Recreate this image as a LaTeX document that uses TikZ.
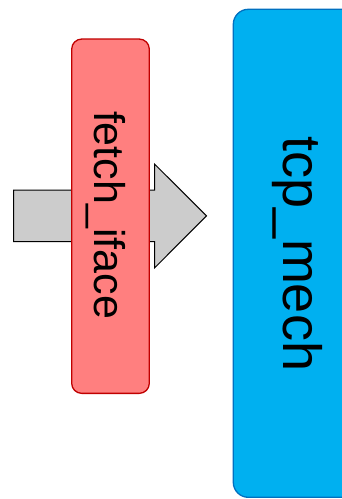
\documentclass[tikz,border=0pt]{standalone}
\usepackage{fontspec}
\setmainfont{Liberation Sans}
\definecolor{redfill}{HTML}{FF7F7F}
\definecolor{redline}{HTML}{C00000}
\definecolor{bluefill}{HTML}{00B0F0}
\definecolor{blueline}{HTML}{0070C0}
\definecolor{grayfill}{HTML}{CCCCCC}
\tikzset{
  block/.style={rectangle, inner sep=0pt, line width=1.3pt},
  lbl/.style={inner sep=0pt, rotate=-90, text=black},
}
\begin{document}
\begin{tikzpicture}[x=1pt,y=-1pt]
\useasboundingbox (0,0) rectangle (341,499);
% gray arrow
\draw[fill=grayfill, draw=black, line width=1pt, line join=miter]
  (13.5,190) -- (154.5,190) -- (154.5,164) -- (206.5,215.8) -- (154.5,268)
  -- (154.5,241.7) -- (13.5,241.7) -- cycle;
% red block
\node[block, fill=redfill, draw=redline, rounded corners=10pt,
  minimum width=77.6pt, minimum height=354.3pt] (fetch) at (110.5,216.2) {};
\node[lbl, font=\fontsize{43}{50}\selectfont] (fetchlbl) at (105.5,215) {fetch\_iface};
% blue block
\node[block, fill=bluefill, draw=blueline, rounded corners=15pt,
  minimum width=130pt, minimum height=488pt] (tcp) at (298.3,253.3) {};
\node[lbl, font=\fontsize{54}{62}\selectfont] (tcplbl) at (297,254) {tcp\_mech};
\end{tikzpicture}
\end{document}
